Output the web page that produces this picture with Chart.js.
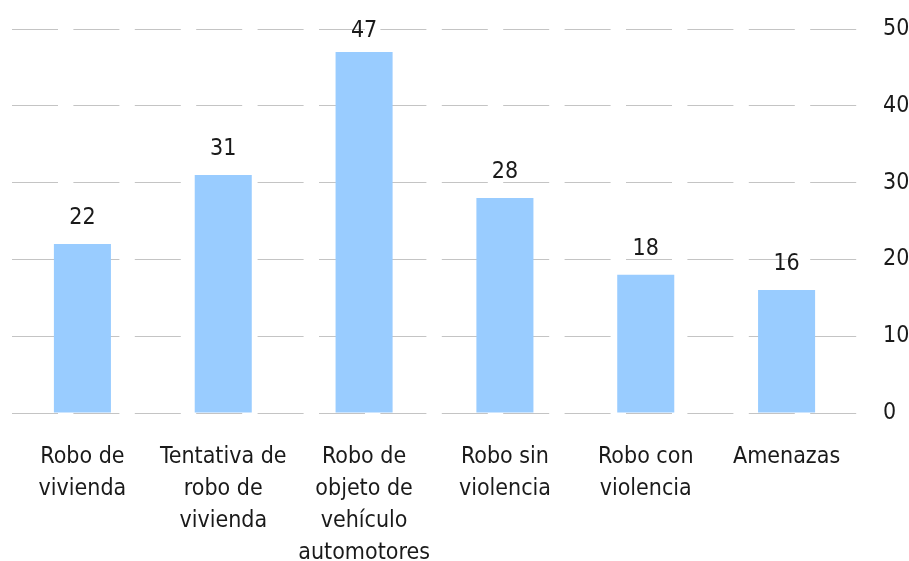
<!DOCTYPE html>
<html>
<head>
<meta charset="utf-8">
<script src="https://cdn.jsdelivr.net/npm/chart.js@4"></script>
<style>
  html, body { margin: 0; padding: 0; background: #ffffff; }
  #wrap { width: 909px; height: 561px; }
</style>
</head>
<body>
<div id="wrap"><canvas id="chart" width="909" height="561"></canvas></div>
<script>
// datos
const CATEGORIES = [
    ['Robo de', 'vivienda'],
    ['Tentativa de', 'robo de', 'vivienda'],
    ['Robo de', 'objeto de', 'vehículo', 'automotores'],
    ['Robo sin', 'violencia'],
    ['Robo con', 'violencia'],
    ['Amenazas']
];
const VALUES = [22, 31, 47, 28, 18, 16];
const Y_TICKS = [0, 10, 20, 30, 40, 50];

const BAR_COLOR = '#99ccff';
const GRID_COLOR = '#c4c4c4';
const TEXT_COLOR = '#1a1a1a';
const FONT_FAMILY = "'Liberation Sans Narrow', 'DejaVu Sans Condensed', 'Arial Narrow', sans-serif";
const FONT_SIZE = 23;

Chart.defaults.font.family = FONT_FAMILY;
Chart.defaults.font.size = FONT_SIZE;
Chart.defaults.color = TEXT_COLOR;

// etiquetas encima de cada barra (la mas alta no puede salirse del area)
const valueLabels = {
    id: 'valueLabels',
    afterDatasetsDraw(chart) {
        const ctx = chart.ctx;
        const meta = chart.getDatasetMeta(0);
        const minBaseline = chart.chartArea.top + 8;
        ctx.save();
        ctx.font = FONT_SIZE + 'px ' + FONT_FAMILY;
        ctx.fillStyle = TEXT_COLOR;
        ctx.textAlign = 'center';
        ctx.textBaseline = 'alphabetic';
        meta.data.forEach((bar, i) => {
            ctx.fillText(String(VALUES[i]), bar.x, Math.max(bar.y - 20, minBaseline));
        });
        ctx.restore();
    }
};

new Chart(document.getElementById('chart').getContext('2d'), {
    type: 'bar',
    data: {
        labels: CATEGORIES,
        datasets: [{
            data: VALUES,
            backgroundColor: BAR_COLOR,
            borderWidth: 0,
            barPercentage: 0.405,
            categoryPercentage: 1
        }]
    },
    options: {
        responsive: false,
        animation: false,
        layout: { padding: { left: 12, top: 29, right: 0, bottom: 0 } },
        plugins: {
            legend: { display: false },
            tooltip: { enabled: false }
        },
        scales: {
            x: {
                grid: { display: false },
                border: { display: false },
                ticks: {
                    padding: 20,
                    maxRotation: 0,
                    autoSkip: false,
                    font: { size: FONT_SIZE, lineHeight: 32 / FONT_SIZE }
                },
                afterFit: (scale) => {
                    scale.height = 148;
                    scale.paddingLeft = 0;
                    scale.paddingRight = 0;
                }
            },
            y: {
                position: 'right',
                min: Y_TICKS[0],
                max: Y_TICKS[Y_TICKS.length - 1],
                afterBuildTicks: (scale) => { scale.ticks = Y_TICKS.map(v => ({ value: v })); },
                grid: {
                    color: GRID_COLOR,
                    lineWidth: 1,
                    drawTicks: false
                },
                border: { display: false, dash: [46, 15.4] },
                ticks: {
                    padding: 26,
                    font: { size: FONT_SIZE }
                },
                afterFit: (scale) => {
                    scale.width = 52;
                    scale.paddingTop = 0;
                    scale.paddingBottom = 0;
                }
            }
        }
    },
    plugins: [valueLabels]
});
</script>
</body>
</html>
